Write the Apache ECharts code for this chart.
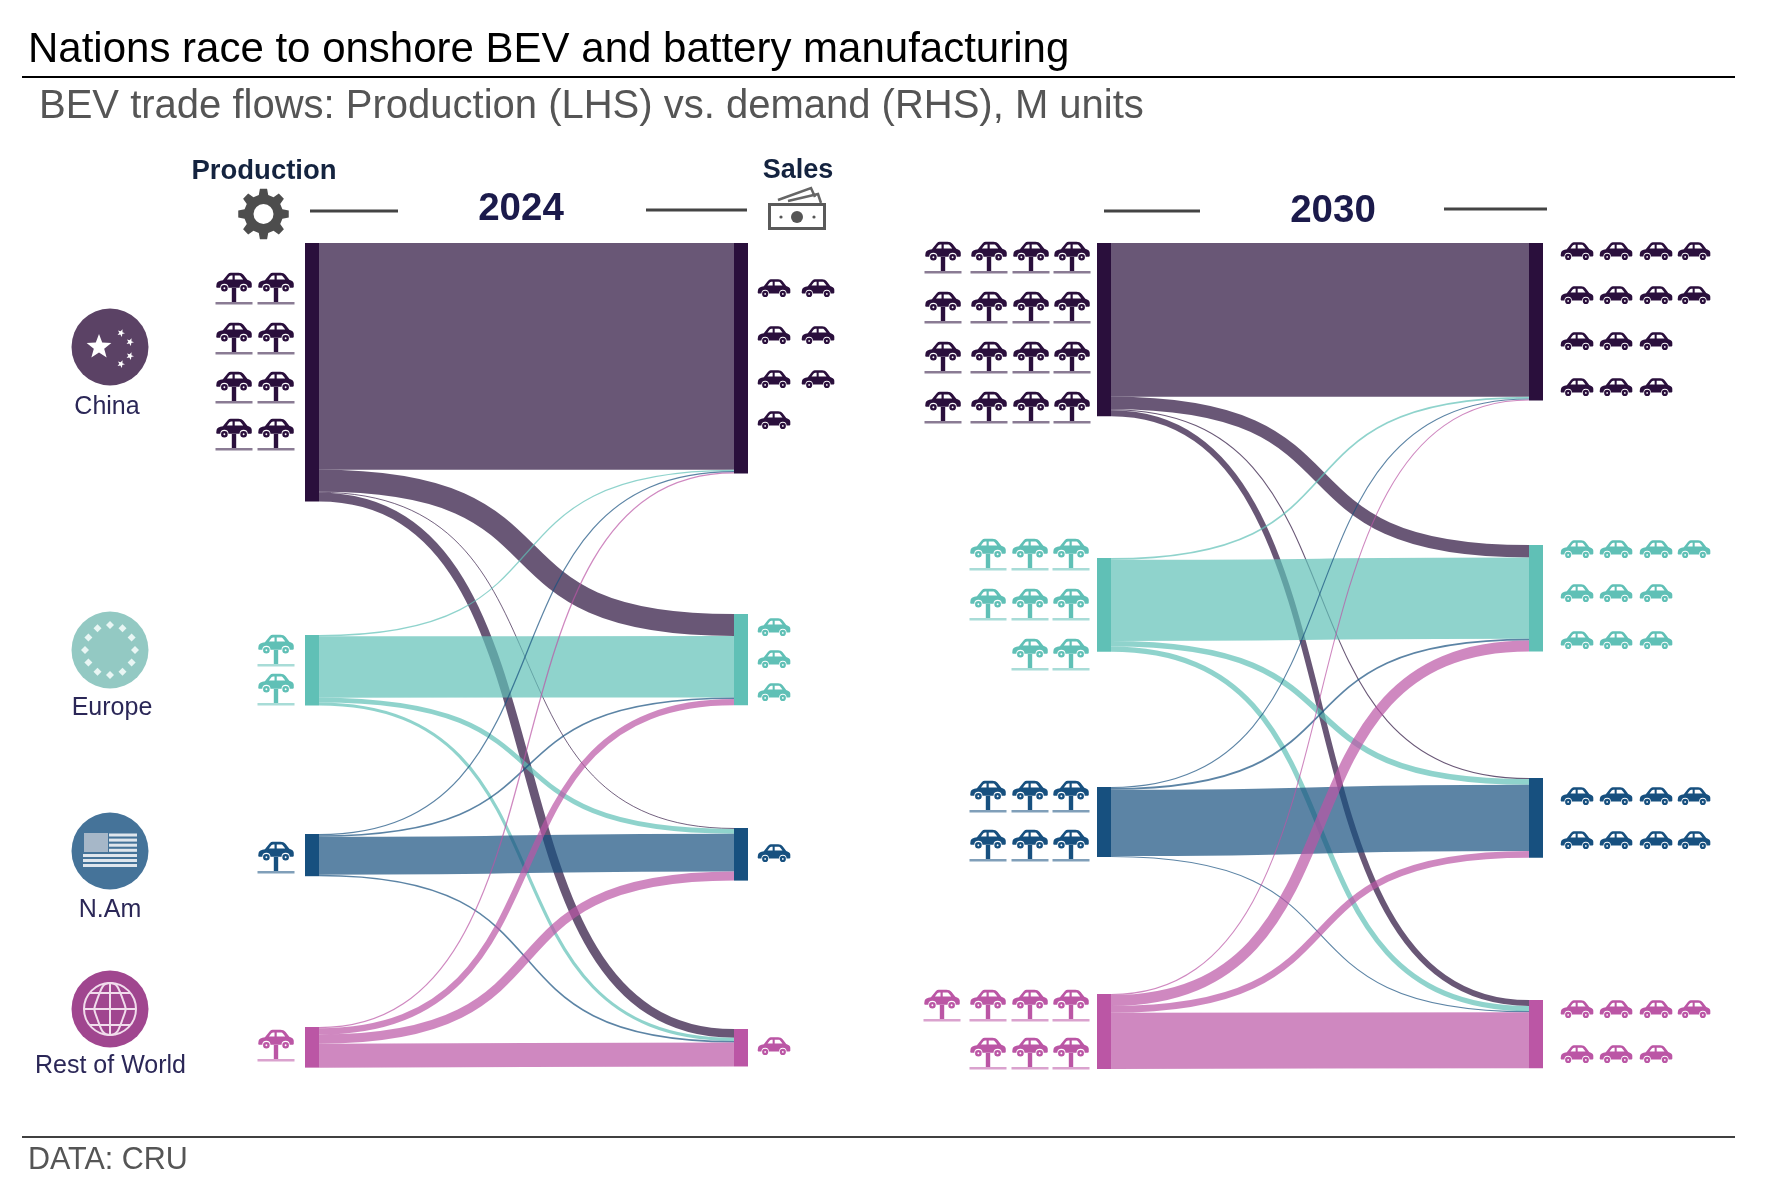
<!DOCTYPE html>
<html>
<head>
<meta charset="utf-8">
<style>html,body{margin:0;padding:0;background:#fff}#c{width:1767px;height:1183px}</style>
<script src="https://cdn.jsdelivr.net/npm/echarts@6/dist/echarts.min.js"></script>
</head>
<body>
<div id="c"></div>
<script>
// ---------- data ----------
const regions = ['China', 'Europe', 'N.Am', 'Rest of World'];
const regionLabels = regions;
// rows: producer, columns: buyer (M units)
const flows2024 = [
  [7.20, 0.70, 0.03, 0.28],
  [0.04, 1.95, 0.15, 0.10],
  [0.04, 0.05, 1.20, 0.05],
  [0.04, 0.20, 0.29, 0.76]
];
const flows2030 = [
  [14.10, 1.15, 0.10, 0.55],
  [0.16, 7.45, 0.52, 0.47],
  [0.10, 0.16, 6.07, 0.10],
  [0.10, 1.00, 0.62, 5.15]
];
const productionIcons2024 = [8, 2, 1, 1];
const salesIcons2024 = [7, 3, 1, 1];
const productionIcons2030 = [16, 8, 6, 7];
const salesIcons2030 = [14, 10, 8, 7];

// ---------- layout and style ----------
const nodeColors = ['#2a0f3c', '#60c0b6', '#17507f', '#bb56a5'];
const badgeColors = ['#5b4265', '#93c9c3', '#457399', '#a0468f'];
const TOP = 243, HEIGHT = 826, BAND = 412, NODE_W = 14, CURVE = 0.65;
const layout2024 = {left: 305, width: 443, rightX: 734,
  leftTops: [243, 635, 834, 1027], rightTops: [243, 614, 828, 1029]};
const layout2030 = {left: 1097, width: 446, rightX: 1529,
  leftTops: [243, 558, 787, 994], rightTops: [243, 545, 778, 1000]};

function sankey(flows, L) {
  const nodes = [], links = [];
  regions.forEach((r, i) => nodes.push({
    name: r + ' production', localX: 0, localY: (L.leftTops[i] - TOP) / HEIGHT,
    itemStyle: {color: nodeColors[i]}}));
  regions.forEach((r, i) => nodes.push({
    name: r + ' sales', localX: (L.rightX - L.left) / L.width, localY: (L.rightTops[i] - TOP) / HEIGHT,
    itemStyle: {color: nodeColors[i]}}));
  flows.forEach((row, i) => row.forEach((v, j) => links.push({
    source: regions[i] + ' production', target: regions[j] + ' sales', value: v})));
  return {
    type: 'sankey', z: 3, left: L.left, top: TOP, width: L.width, height: HEIGHT,
    nodeWidth: NODE_W, nodeGap: (HEIGHT - BAND) / 3, layoutIterations: 0,
    draggable: false, silent: true, emphasis: {disabled: true},
    label: {show: false}, itemStyle: {borderWidth: 0},
    lineStyle: {color: 'source', opacity: 0, curveness: CURVE},
    data: nodes, links: links
  };
}
// The flows themselves are constant-width stroked ribbons, stacked on each node in region order.
function ribbons(flows, L) {
  const total = flows.flat().reduce((a, b) => a + b, 0);
  const ky = BAND / total;
  const before = (arr, n) => arr.slice(0, n).reduce((a, b) => a + b, 0);
  return {
    type: 'custom', coordinateSystem: 'none', z: 2, silent: true, clip: false,
    data: flows.flatMap((row, i) => row.map((v, j) => [i, j, v])),
    renderItem: function (params, api) {
      const i = api.value(0), j = api.value(1), v = api.value(2);
      const w = v * ky;
      const y1 = L.leftTops[i] + before(flows[i], j) * ky + w / 2;
      const y2 = L.rightTops[j] + before(flows.map(r => r[j]), i) * ky + w / 2;
      const x1 = L.left + NODE_W, x2 = L.rightX, dx = (x2 - x1) * CURVE;
      return {type: 'bezierCurve',
        shape: {x1, y1, x2, y2, cpx1: x1 + dx, cpy1: y1, cpx2: x2 - dx, cpy2: y2},
        style: {fill: 'none', stroke: nodeColors[i], lineWidth: w, opacity: 0.7}};
    }
  };
}

// ---------- pictograms ----------
const CAR = 'M3 31C4 25 10 23 20 21L32 6C35 2 39 1 45 1L62 1C68 1 72 3 76 7L86 20C93 22 98 26 98 31L98 39C98 41 96 42 94 42L87 42A11 11 0 0 0 65 42L35 42A11 11 0 0 0 13 42L6 42C3 42 2 40 2 38Z' +
  'M52 8L52 19L75 19L68 10C66 8 64 8 62 8Z' +
  'M45 8C41 8 39 9 37 11L31 19L46 19L46 8Z' +
  'M15 43a9 9 0 1 0 18 0a9 9 0 1 0 -18 0Z M21.5 43a2.5 2.5 0 1 1 5 0a2.5 2.5 0 1 1 -5 0Z' +
  'M67 43a9 9 0 1 0 18 0a9 9 0 1 0 -18 0Z M73.5 43a2.5 2.5 0 1 1 5 0a2.5 2.5 0 1 1 -5 0Z';
echarts.graphic.registerShape('carIcon', echarts.graphic.extendPath(CAR, {}));
const g = [];
function carIcon(cx, cy, w, h, color) {
  g.push({type: 'carIcon', silent: true, x: cx - w / 2, y: cy - h / 2, scaleX: w / 100, scaleY: h / 52, style: {fill: color}});
}
function liftIcon(cx, cy, color) {
  carIcon(cx, cy - 7, 37, 19, color);
  g.push({type: 'rect', silent: true, shape: {x: cx - 2.2, y: cy - 1, width: 4.4, height: 14}, style: {fill: color}});
  g.push({type: 'rect', silent: true, shape: {x: cx - 18.5, y: cy + 13, width: 37, height: 2.6}, style: {fill: color, opacity: 0.55}});
}
function salesIcon(cx, cy, color) { carIcon(cx, cy, 34, 18, color); }
// places n icons in rows, right-aligned to the columns list
function placeIcons(n, colXs, rowYs, perRow, color, draw) {
  let left = n;
  rowYs.forEach((y, r) => {
    const k = Math.min(left, perRow[r]); left -= k;
    for (let i = 0; i < k; i++) draw(colXs(k, i), y, color);
  });
}
const rightAlign = xs => (k, i) => xs[xs.length - k + i];
const leftAlign = xs => (k, i) => xs[i];

const prod24 = [
  {x: [234, 276], y: [289, 339, 388, 435], n: [2, 2, 2, 2]},
  {x: [276], y: [651, 690], n: [1, 1]},
  {x: [276], y: [858], n: [1]},
  {x: [276], y: [1046], n: [1]}];
const sale24 = [
  {x: [774, 818], y: [288, 335, 379, 420], n: [2, 2, 2, 1]},
  {x: [774], y: [627, 659, 692], n: [1, 1, 1]},
  {x: [774], y: [853], n: [1]},
  {x: [774], y: [1046], n: [1]}];
const prod30 = [
  {x: [943, 989, 1031, 1072], y: [258, 308, 358, 408], n: [4, 4, 4, 4]},
  {x: [988, 1030, 1071], y: [555, 605, 655], n: [3, 3, 2]},
  {x: [988, 1030, 1071], y: [797, 846], n: [3, 3]},
  {x: [942, 988, 1030, 1071], y: [1006, 1054], n: [4, 3]}];
const sale30 = [
  {x: [1577, 1616, 1656, 1694], y: [251, 295, 341, 387], n: [4, 4, 3, 3]},
  {x: [1577, 1616, 1656, 1694], y: [549, 593, 640], n: [4, 3, 3]},
  {x: [1577, 1616, 1656, 1694], y: [796, 840], n: [4, 4]},
  {x: [1577, 1616, 1656, 1694], y: [1009, 1054], n: [4, 3]}];
productionIcons2024.forEach((n, i) => placeIcons(n, rightAlign(prod24[i].x), prod24[i].y, prod24[i].n, nodeColors[i], liftIcon));
salesIcons2024.forEach((n, i) => placeIcons(n, leftAlign(sale24[i].x), sale24[i].y, sale24[i].n, nodeColors[i], salesIcon));
productionIcons2030.forEach((n, i) => placeIcons(n, rightAlign(prod30[i].x), prod30[i].y, prod30[i].n, nodeColors[i], liftIcon));
salesIcons2030.forEach((n, i) => placeIcons(n, leftAlign(sale30[i].x), sale30[i].y, sale30[i].n, nodeColors[i], salesIcon));

// ---------- helpers ----------
function rule(x1, x2, y, color, w) {
  g.push({type: 'line', silent: true, shape: {x1, y1: y, x2, y2: y}, style: {stroke: color, lineWidth: w}});
}
function text(t, x, y, font, fill, align) {
  g.push({type: 'text', silent: true, style: {text: t, x, y, font, fill, align: align || 'center', verticalAlign: 'middle'}});
}
function star(cx, cy, r, fill, rot) {
  const pts = [];
  for (let i = 0; i < 10; i++) {
    const a = -Math.PI / 2 + (rot || 0) + i * Math.PI / 5, rr = i % 2 ? r * 0.42 : r;
    pts.push([cx + rr * Math.cos(a), cy + rr * Math.sin(a)]);
  }
  g.push({type: 'polygon', silent: true, shape: {points: pts}, style: {fill}});
}
function disc(cx, cy, r, fill) { g.push({type: 'circle', silent: true, shape: {cx, cy, r}, style: {fill}}); }

// rules, headers
rule(22, 1735, 77, '#000', 2);
rule(22, 1735, 1137, '#000', 1.6);
text('Production', 264, 171, 'bold 27.5px "Liberation Sans", Arial, sans-serif', '#14233f');
text('Sales', 798, 171, 'bold 27px "Liberation Sans", Arial, sans-serif', '#14233f');
text('2024', 521, 209, 'bold 38.5px "Liberation Sans", Arial, sans-serif', '#1b1a4b');
text('2030', 1333, 211, 'bold 38.5px "Liberation Sans", Arial, sans-serif', '#1b1a4b');
rule(310, 398, 211, '#444', 3);
rule(646, 747, 210, '#444', 3);
rule(1104, 1200, 211, '#444', 3);
rule(1444, 1547, 209, '#444', 3);

// gear
(function () {
  const cx = 263.5, cy = 214, R = 25.5, r = 19.5, teeth = 8;
  let d = '';
  for (let i = 0; i < teeth; i++) {
    const a = i * 2 * Math.PI / teeth - Math.PI / 2, w = Math.PI / teeth;
    [[r, -w * 0.62], [R, -w * 0.36], [R, w * 0.36], [r, w * 0.62]].forEach(p => {
      const ang = a + p[1];
      d += (d ? 'L' : 'M') + (cx + p[0] * Math.cos(ang)).toFixed(2) + ' ' + (cy + p[0] * Math.sin(ang)).toFixed(2);
    });
  }
  d += 'Z';
  echarts.graphic.registerShape('gearIcon', echarts.graphic.extendPath(d, {}));
  g.push({type: 'gearIcon', silent: true, style: {fill: '#4d4d4d'}});
  disc(cx, cy, 10, '#fff');
})();

// money
g.push({type: 'rect', silent: true, shape: {x: 769.5, y: 204.5, width: 55, height: 24}, style: {fill: '#fff', stroke: '#5a5a5a', lineWidth: 3}});
g.push({type: 'circle', silent: true, shape: {cx: 797, cy: 217, r: 6}, style: {fill: '#555'}});
disc(781, 217, 1.6, '#555'); disc(814, 217, 1.6, '#555');
g.push({type: 'polyline', silent: true, shape: {points: [[778, 200], [811, 188], [815, 197]]}, style: {stroke: '#666', lineWidth: 2.5, fill: 'none'}});
g.push({type: 'polyline', silent: true, shape: {points: [[788, 201], [818, 194], [821, 203]]}, style: {stroke: '#666', lineWidth: 2.5, fill: 'none'}});

// region badges
const badgeY = [347, 650, 851, 1009];
const labelPos = [[107, 407], [112, 708], [110, 910], [110.5, 1066]];
badgeY.forEach((y, i) => disc(110, y, 38.5, badgeColors[i]));
regionLabels.forEach((t, i) => text(t, labelPos[i][0], labelPos[i][1], '25px "Liberation Sans", Arial, sans-serif', '#2b2757'));
// China
star(99, 347, 13, '#fff');
[[121, 333], [130, 342], [130, 356], [121, 364]].forEach(p => star(p[0], p[1], 4, '#fff', 0.4));
// Europe
for (let i = 0; i < 12; i++) {
  const a = i * Math.PI / 6;
  const px = 110 + 25 * Math.sin(a), py = 650 - 25 * Math.cos(a);
  g.push({type: 'polygon', silent: true, shape: {points: [[px, py - 4], [px + 4, py], [px, py + 4], [px - 4, py]]}, style: {fill: '#e9f6f4'}});
}
// N.Am flag
for (let i = 0; i < 7; i++) {
  const y = 833.5 + i * 5.1, x = i < 4 ? 109 : 83;
  g.push({type: 'rect', silent: true, shape: {x, y, width: 137 - x, height: 3}, style: {fill: '#dfe6ed'}});
}
g.push({type: 'rect', silent: true, shape: {x: 84, y: 833, width: 24, height: 19}, style: {fill: '#a6b7c8'}});
// globe
const W = {stroke: '#f1dcec', lineWidth: 2, fill: 'none'};
g.push({type: 'circle', silent: true, shape: {cx: 110, cy: 1009, r: 26}, style: W});
const wL = [[110, 983], [97, 1000], [97, 1018], [110, 1035], [123, 1018], [123, 1000]];
g.push({type: 'polygon', silent: true, shape: {points: wL, smooth: 0.6}, style: W});
g.push({type: 'line', silent: true, shape: {x1: 110, y1: 983, x2: 110, y2: 1035}, style: W});
g.push({type: 'line', silent: true, shape: {x1: 84, y1: 1009, x2: 136, y2: 1009}, style: W});
g.push({type: 'line', silent: true, shape: {x1: 90, y1: 993, x2: 130, y2: 993}, style: W});
g.push({type: 'line', silent: true, shape: {x1: 90, y1: 1025, x2: 130, y2: 1025}, style: W});

// ---------- chart ----------
const chart = echarts.init(document.getElementById('c'), null, {renderer: 'canvas'});
chart.setOption({
  backgroundColor: '#fff',
  animation: false,
  tooltip: {show: false},
  title: [
    {text: 'Nations race to onshore BEV and battery manufacturing', left: 23, top: 24,
      textStyle: {fontFamily: '"Liberation Sans", Arial, sans-serif', fontSize: 42, fontWeight: 'normal', color: '#000'}},
    {text: 'BEV trade flows: Production (LHS) vs. demand (RHS), M units', left: 34, top: 82,
      textStyle: {fontFamily: '"Liberation Sans", Arial, sans-serif', fontSize: 40, fontWeight: 'normal', color: '#555'}},
    {text: 'DATA: CRU', left: 23, top: 1140,
      textStyle: {fontFamily: '"Liberation Sans", Arial, sans-serif', fontSize: 30.5, fontWeight: 'normal', color: '#555'}}
  ],
  series: [ribbons(flows2024, layout2024), ribbons(flows2030, layout2030), sankey(flows2024, layout2024), sankey(flows2030, layout2030)],
  graphic: {elements: g}
});
</script>
</body>
</html>
